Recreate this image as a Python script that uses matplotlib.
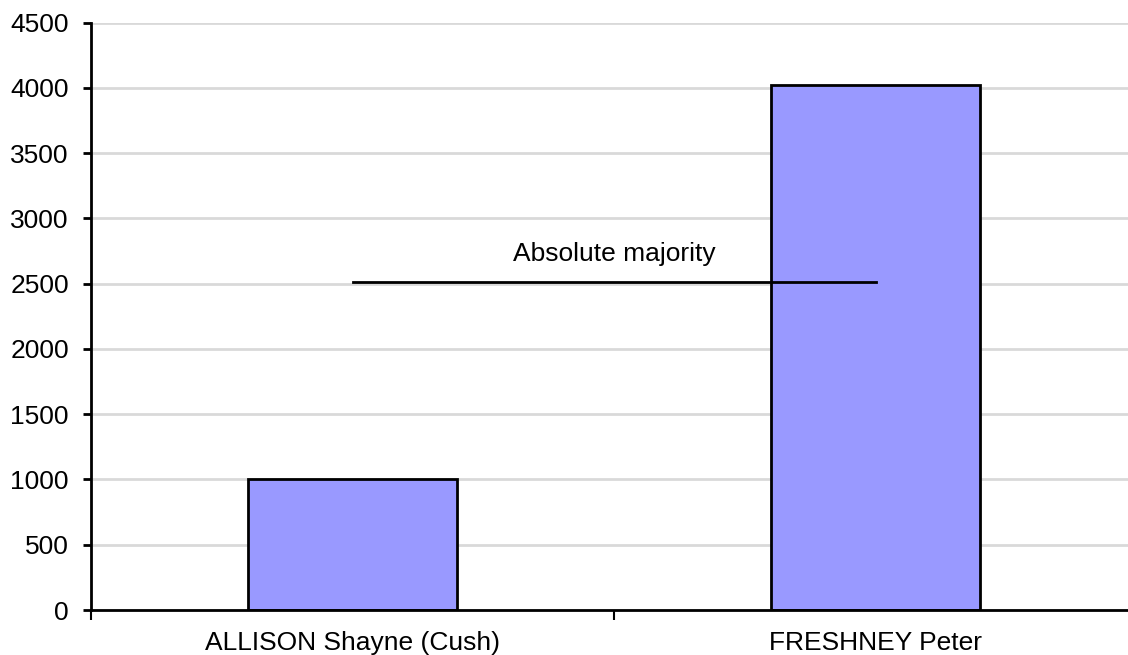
import matplotlib
matplotlib.use("Agg")
import matplotlib.pyplot as plt
from matplotlib.ticker import FixedLocator

candidates = ["ALLISON Shayne (Cush)", "FRESHNEY Peter"]
votes = [1000, 4023]
majority = 2512
majority_label = "Absolute majority"
yticks = [0, 500, 1000, 1500, 2000, 2500, 3000, 3500, 4000, 4500]

plt.rcParams['font.family'] = ['Liberation Sans', 'DejaVu Sans']

fig = plt.figure(figsize=(11.28, 6.55), dpi=100)
ax = fig.add_axes([91/1128, 1-610/655, 1046/1128, (610-22.5)/655])

x = list(range(len(candidates)))
ax.set_axisbelow(True)
ax.yaxis.grid(True, color='#d9d9d9', linewidth=2)
ax.bar(x, votes, width=0.4, color='#9999ff', edgecolor='black', linewidth=2, zorder=2)

ax.plot([0, 1], [majority, majority], color='black', linewidth=2, zorder=3)
ax.text(0.5, majority + 125, majority_label, ha='center', va='bottom', fontsize=19, zorder=4)

ax.set_xlim(-0.5, 1.5)
ax.set_ylim(0, 4500)
ax.set_yticks(yticks)
ax.set_xticks(x)
ax.set_xticklabels(candidates)
ax.xaxis.set_minor_locator(FixedLocator([-0.5, 0.5, 1.5]))
ax.tick_params(axis='x', which='major', length=0, pad=15, labelsize=19)
ax.tick_params(axis='x', which='minor', length=7, width=1.5, direction='out')
ax.tick_params(axis='y', length=6, width=2, direction='out', labelsize=19, pad=10)

for s in ['top', 'right']:
    ax.spines[s].set_visible(False)
for s in ['left', 'bottom']:
    ax.spines[s].set_linewidth(2)
    ax.spines[s].set_color('black')

fig.savefig('out.png', dpi=100)
